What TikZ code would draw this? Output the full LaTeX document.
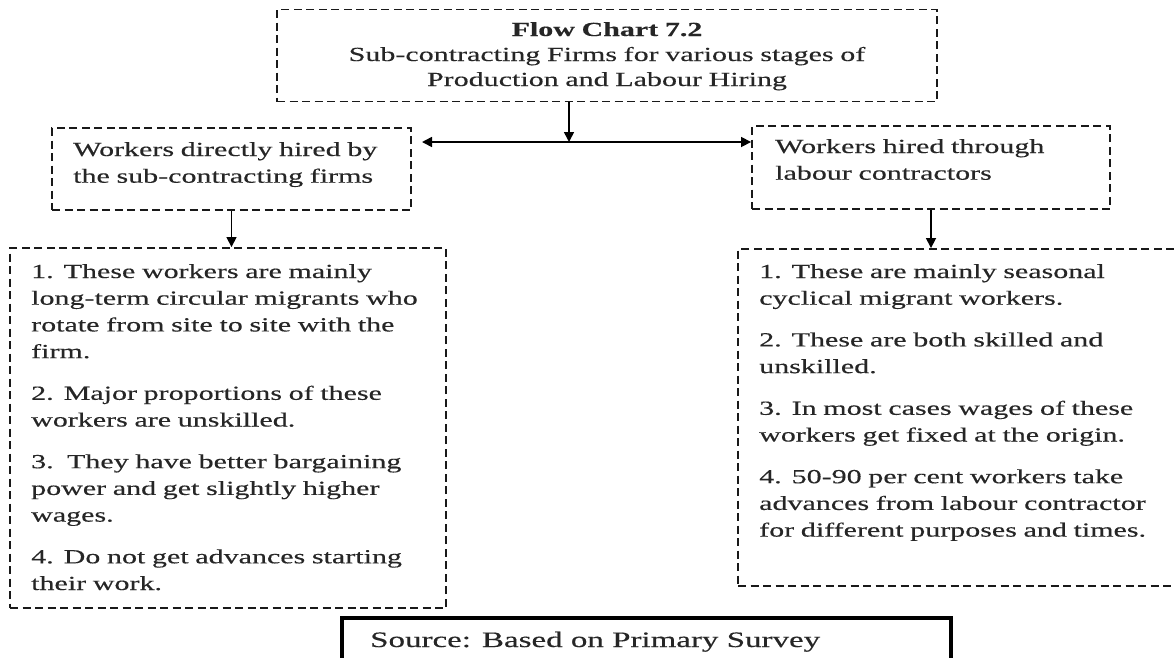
\documentclass[tikz,border=0pt]{standalone}
\usepackage{fontspec}
\setmainfont{Liberation Serif}
\newfontfamily\rf[FakeStretch=1.5,FakeBold=0.35]{Liberation Serif}
\usetikzlibrary{arrows.meta}
\tikzset{
  dbox/.style={draw=black!90, dash pattern=on 8pt off 4.5pt, line width=1.9pt, inner sep=0pt},
  sbox/.style={draw=black, line width=4pt, inner sep=0pt},
  txt/.style={font=\rf\fontsize{20}{26.7}\selectfont, inner sep=0pt, align=left, text=black!85},
  arr/.style={line width=1.6pt, -{Triangle[length=10pt,width=10pt]}},
  darr/.style={line width=1.6pt, {Triangle[length=10pt,width=10pt]}-{Triangle[length=10pt,width=10pt]}}
}
\begin{document}
\begin{tikzpicture}[x=1pt,y=-1pt]
\useasboundingbox (0,0) rectangle (1174,657);
\clip (0,0) rectangle (1174,657);
% boxes
\node[dbox, minimum width=660pt, minimum height=92pt] (top) at (607,55.5) {};
\node[dbox, minimum width=359pt, minimum height=82pt] (lbox) at (231.5,169) {};
\node[dbox, minimum width=358pt, minimum height=83pt] (rbox) at (931,167.5) {};
\node[dbox, minimum width=436pt, minimum height=360pt] (blbox) at (228,428) {};
\node[dbox, minimum width=462pt, minimum height=337pt] (brbox) at (969,417.5) {};
\node[sbox, minimum width=609pt, minimum height=62pt] (src) at (646.5,649) {};
% texts
\node[txt, anchor=base, align=center, text width=620pt, font=\rf\fontsize{20}{25}\selectfont] (ttl) at (607,36)
  {{\bfseries Flow Chart 7.2}\\Sub-contracting Firms for various stages of\\Production and Labour Hiring};
\node[txt, anchor=base west, text width=330pt] (ltxt) at (73,156)
  {Workers directly hired by\\the sub-contracting firms};
\node[txt, anchor=base west, text width=330pt] (rtxt) at (775,153)
  {Workers hired through\\labour contractors};
\node[txt, anchor=base west, text width=430pt] (bltxt) at (31,278)
  {1. These workers are mainly\\long-term circular migrants who\\rotate from site to site with the\\firm.\\[15pt]
   2. Major proportions of these\\workers are unskilled.\\[15pt]
   3.\ \ They have better bargaining\\power and get slightly higher\\wages.\\[15pt]
   4. Do not get advances starting\\their work.};
\node[txt, anchor=base west, text width=420pt] (brtxt) at (759,278)
  {1. These are mainly seasonal\\cyclical migrant workers.\\[15pt]
   2. These are both skilled and\\unskilled.\\[15pt]
   3. In most cases wages of these\\workers get fixed at the origin.\\[15pt]
   4. 50-90 per cent workers take\\advances from labour contractor\\for different purposes and times.};
\node[txt, anchor=base west, font=\rf\fontsize{22}{27}\selectfont] (srctxt) at (370,647)
  {Source: Based on Primary Survey};
% connectors
\coordinate (hc) at (569,142);
\coordinate (hl) at (422,142);
\draw[arr] (top.south -| hc) -- (hc);
\draw[darr] (hl) -- (rbox.west |- hc);
\draw[arr] (lbox.south) -- (lbox.south |- blbox.north);
\draw[arr] (rbox.south) -- (rbox.south |- brbox.north);
\end{tikzpicture}
\end{document}
